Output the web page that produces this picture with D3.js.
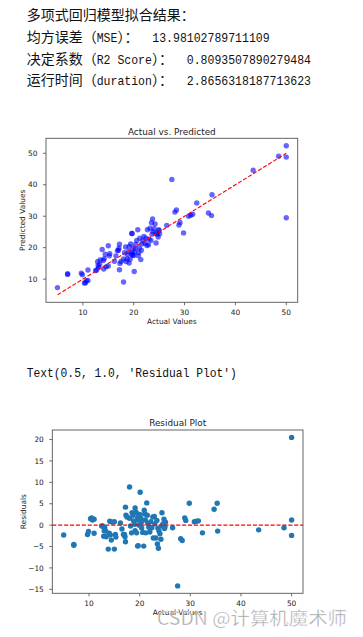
<!DOCTYPE html>
<html>
<head>
<meta charset="utf-8">
<script src="https://cdn.jsdelivr.net/npm/d3@7"></script>
<style>
  body { margin: 0; background: #fff; }
  text { font-family: "DejaVu Sans", sans-serif; fill: #222; }
</style>
</head>
<body>
<script>
// Printed output above the charts
var resultLines = [
  [["多项式回归模型拟合结果：", "cjk"]],
  [["均方误差（", "cjk"], ["MSE", "lat"], ["）：", "cjk"], [" 13.98102789711109", "lat"]],
  [["决定系数（", "cjk"], ["R2 Score", "lat"], ["）：", "cjk"], [" 0.8093507890279484", "lat"]],
  [["运行时间（", "cjk"], ["duration", "lat"], ["）：", "cjk"], [" 2.8656318187713623", "lat"]]
];
var returnLine = "Text(0.5, 1.0, 'Residual Plot')";

// Test set: actual and predicted values
var actualValues = [
  5.0, 7.0, 7.0, 9.7, 9.9, 10.3, 10.5, 10.7, 11.0, 11.0,
  12.7, 12.9, 13.1, 13.3, 13.4, 13.8, 14.1, 14.4, 14.2, 14.6,
  15.0, 15.2, 15.3, 15.0, 16.2, 16.5, 17.0, 17.1, 17.2, 17.2,
  17.3, 17.5, 18.0, 18.0, 18.2, 18.5, 18.7, 18.8, 19.0, 19.1,
  19.1, 19.3, 19.4, 19.6, 19.7, 19.6, 19.7, 19.8, 19.9, 20.1,
  20.0, 20.2, 20.3, 20.4, 20.6, 20.8, 20.9, 21.0, 21.1, 21.2,
  21.4, 21.5, 21.6, 21.8, 22.2, 22.4, 22.6, 22.7, 22.9, 23.0,
  23.2, 23.4, 23.5, 23.6, 23.7, 23.8, 24.0, 24.2, 24.4, 24.4,
  24.6, 24.8, 24.9, 25.0, 25.1, 26.5, 27.5, 28.1, 28.4, 28.9,
  29.1, 29.8, 30.8, 31.2, 31.6, 32.4, 34.7, 35.3, 35.4, 43.5,
  48.5, 50.0, 50.0, 50.0, 12.5, 13.0, 14.0, 16.8, 18.4, 22.0
];
var predictedValues = [
  7.3, 11.5, 11.7, 11.9, 11.4, 8.8, 8.8, 9.5, 9.6, 12.9,
  12.9, 15.5, 13.7, 14.7, 16.1, 19.4, 13.2, 17.9, 16.5, 13.9,
  20.6, 17.4, 18.1, 14.2, 15.7, 17.4, 19.2, 19.8, 21.1, 13.0,
  15.0, 15.6, 9.1, 16.4, 18.4, 15.6, 16.4, 17.8, 18.8, 15.1,
  20.4, 16.3, 21.2, 24.5, 24.5, 17.9, 18.5, 17.6, 19.9, 12.4,
  17.5, 18.6, 19.7, 21.1, 22.3, 25.7, 17.4, 18.4, 19.9, 23.0,
  16.2, 19.2, 21.2, 22.3, 21.4, 23.0, 20.7, 25.7, 20.9, 22.7,
  26.2, 22.3, 27.9, 24.3, 29.1, 25.1, 26.0, 27.5, 21.5, 24.6,
  24.3, 23.4, 25.7, 25.4, 24.4, 27.1, 41.7, 31.3, 32.0, 27.2,
  28.0, 24.7, 30.0, 30.3, 30.6, 34.2, 31.0, 30.2, 36.8, 44.6,
  49.1, 29.5, 48.8, 52.4, 12.7, 14.3, 15.9, 19.0, 20.2, 23.6
];

// Tick labels
var xTicks = [10, 20, 30, 40, 50];
var predTicks = [10, 20, 30, 40, 50];
var residTicks = [-15, -10, -5, 0, 5, 10, 15, 20];

var width = 363, height = 637;

var svg = d3.select("body")
  .append("svg")
  .attr("width", width)
  .attr("height", height);

// ---- printed text ----
var cjkW = 14, latW = 6.9;
var textLeft = 26.7;
var baselines = [19.7, 41.7, 63.5, 85.2];

resultLines.forEach(function(segs, i) {
  var x = textLeft;
  segs.forEach(function(s) {
    var w = s[1] == "cjk" ? cjkW : latW;
    var txt = s[0];
    var lead = txt.length - txt.replace(/^ +/, "").length;
    x += lead * w;
    txt = txt.trim();
    var t = svg.append("text")
      .attr("x", x)
      .attr("y", baselines[i])
      .style("fill", "#111")
      .text(txt);
    if (s[1] == "cjk") {
      t.style("font-family", "'Noto Sans CJK SC'").style("font-size", "14px");
    } else {
      t.style("font-family", "'Liberation Mono', monospace").style("font-size", "13px")
        .attr("textLength", txt.length * w)
        .attr("lengthAdjust", "spacingAndGlyphs");
    }
    x += txt.length * w;
  });
});

svg.append("text")
  .attr("x", textLeft)
  .attr("y", 376.7)
  .style("fill", "#111")
  .style("font-family", "'Liberation Mono', monospace")
  .style("font-size", "13px")
  .attr("textLength", returnLine.length * 6.78)
  .attr("lengthAdjust", "spacingAndGlyphs")
  .text(returnLine);

// matplotlib style 5% margins
function padded(ext) {
  var m = (ext[1] - ext[0]) * 0.05;
  return [ext[0] - m, ext[1] + m];
}
function fmt(v) { return String(v).replace("-", "\u2212"); }

// draw one axes frame with ticks and labels
function drawAxes(box, x, y, xt, yt, title, xlab, ylab) {
  var g = svg.append("g");
  g.selectAll(".xt").data(xt).enter().append("line")
    .attr("x1", function(d) { return x(d); })
    .attr("x2", function(d) { return x(d); })
    .attr("y1", box.bottom).attr("y2", box.bottom + 3)
    .style("stroke", "#444").style("stroke-width", 0.8);
  g.selectAll(".xl").data(xt).enter().append("text")
    .attr("x", function(d) { return x(d); })
    .attr("y", box.bottom + 12.8)
    .attr("text-anchor", "middle")
    .style("font-size", "7.4px")
    .text(fmt);
  g.selectAll(".yt").data(yt).enter().append("line")
    .attr("x1", box.left - 3).attr("x2", box.left)
    .attr("y1", function(d) { return y(d); })
    .attr("y2", function(d) { return y(d); })
    .style("stroke", "#444").style("stroke-width", 0.8);
  g.selectAll(".yl").data(yt).enter().append("text")
    .attr("x", box.left - 8.5)
    .attr("y", function(d) { return y(d) + 2.7; })
    .attr("text-anchor", "end")
    .style("font-size", "7.4px")
    .text(fmt);
  g.append("text")
    .attr("x", (box.left + box.right) / 2)
    .attr("y", box.top - 3.8)
    .attr("text-anchor", "middle")
    .style("font-size", "8.9px")
    .text(title);
  g.append("text")
    .attr("x", (box.left + box.right) / 2)
    .attr("y", box.bottom + 21.5)
    .attr("text-anchor", "middle")
    .style("font-size", "7.4px")
    .text(xlab);
  g.append("text")
    .attr("transform", "translate(" + box.ylabX + "," + ((box.top + box.bottom) / 2) + ") rotate(-90)")
    .attr("text-anchor", "middle")
    .style("font-size", "7.4px")
    .text(ylab);
  return g;
}

function frame(box) {
  svg.append("rect")
    .attr("x", box.left).attr("y", box.top)
    .attr("width", box.right - box.left)
    .attr("height", box.bottom - box.top)
    .style("fill", "none")
    .style("stroke", "#555")
    .style("stroke-width", 0.9);
}

// ---- Actual vs. Predicted ----
var box1 = {left: 46, right: 297.7, top: 138.3, bottom: 302.3, ylabX: 25.3};
var aExt = d3.extent(actualValues);
var x1 = d3.scaleLinear().domain(padded(aExt)).range([box1.left, box1.right]);
var y1 = d3.scaleLinear()
  .domain(padded([Math.min(d3.min(predictedValues), aExt[0]), Math.max(d3.max(predictedValues), aExt[1])]))
  .range([box1.bottom, box1.top]);

drawAxes(box1, x1, y1, xTicks, predTicks, "Actual vs. Predicted", "Actual Values", "Predicted Values");

svg.append("g").selectAll("circle")
  .data(actualValues)
  .enter()
  .append("circle")
  .attr("cx", function(d) { return x1(d); })
  .attr("cy", function(d, i) { return y1(predictedValues[i]); })
  .attr("r", 2.7)
  .style("fill", "#0000ff")
  .style("fill-opacity", 0.6);

svg.append("line")
  .attr("x1", x1(aExt[0])).attr("y1", y1(aExt[0]))
  .attr("x2", x1(aExt[1])).attr("y2", y1(aExt[1]))
  .style("stroke", "#ff0000")
  .style("stroke-width", 1.1)
  .style("stroke-dasharray", "4.1,1.8");

frame(box1);

// ---- Residual Plot ----
var residuals = actualValues.map(function(d, i) { return d - predictedValues[i]; });
var box2 = {left: 52.3, right: 303, top: 430, bottom: 593.3, ylabX: 25.9};
var x2 = d3.scaleLinear().domain(padded(aExt)).range([box2.left, box2.right]);
var y2 = d3.scaleLinear().domain(padded(d3.extent(residuals))).range([box2.bottom, box2.top]);

drawAxes(box2, x2, y2, xTicks, residTicks, "Residual Plot", "Actual Values", "Residuals");

svg.append("g").selectAll("circle")
  .data(residuals)
  .enter()
  .append("circle")
  .attr("cx", function(d, i) { return x2(actualValues[i]); })
  .attr("cy", function(d) { return y2(d); })
  .attr("r", 2.7)
  .style("fill", "#1f77b4");

svg.append("line")
  .attr("x1", box2.left).attr("x2", box2.right)
  .attr("y1", y2(0)).attr("y2", y2(0))
  .style("stroke", "#ff0000")
  .style("stroke-width", 1.1)
  .style("stroke-dasharray", "4.1,1.8");

frame(box2);

// watermark
svg.append("text")
  .attr("x", 157)
  .attr("y", 625)
  .attr("textLength", 190)
  .attr("lengthAdjust", "spacingAndGlyphs")
  .style("font-family", "'Noto Sans CJK SC'")
  .style("font-size", "18px")
  .style("fill", "#9a9a9a")
  .style("fill-opacity", 0.9)
  .style("stroke", "#fff")
  .style("stroke-width", 0.6)
  .style("stroke-opacity", 0.7)
  .text("CSDN @计算机魔术师");
</script>
</body>
</html>
